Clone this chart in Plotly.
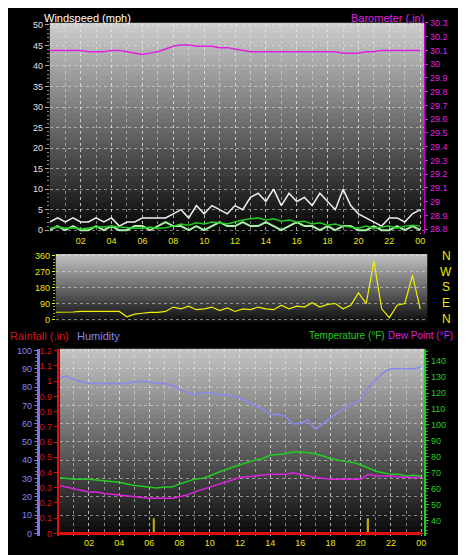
import plotly.graph_objects as go

H, W = 555, 466
FONT = "Liberation Sans"

# time axis in hours, half-hour steps
hours = [i * 0.5 for i in range(49)]
hour_ticks = [2, 4, 6, 8, 10, 12, 14, 16, 18, 20, 22, 24]
hour_labels = ["02", "04", "06", "08", "10", "12", "14", "16", "18", "20", "22", "00"]

# top panel
wind_gust = [2, 3, 2, 3, 2, 2, 3, 2, 3, 1, 2, 2, 3, 3, 3, 3, 4, 5, 3, 6, 4, 6, 5, 4, 6, 5,
             8, 9, 7, 10, 6, 9, 7, 8, 6, 9, 7, 5, 10, 6, 4, 3, 2, 1, 3, 3, 2, 4, 5]
wind_avg = [0.5, 0.8, 0.5, 0.6, 0.3, 0.5, 0.8, 0.8, 1, 0.8, 0.6, 0.5, 0.5, 0.8, 0.4, 0.6,
            1, 1.5, 1.2, 1.8, 1.5, 2, 1.8, 1.5, 2, 2.5, 2.8, 3, 2.5, 2.8, 2.2, 2.5, 2, 2.2,
            1.5, 1.8, 1.2, 1.5, 1, 0.8, 0.5, 1, 0.5, 0.8, 1, 0.5, 1, 1.2, 1]
wind_speed = [0, 1, 0, 1, 0, 0, 1, 0, 1, 0, 0, 1, 1, 0, 1, 2, 1, 1, 0, 1, 0, 1, 2, 1, 1, 2, 1,
              1, 2, 1, 0, 1, 2, 1, 1, 0, 1, 0, 1, 1, 0, 0, 1, 0, 0, 1, 0, 1, 0]
baro = [30.10, 30.10, 30.10, 30.10, 30.10, 30.09, 30.09, 30.09, 30.10, 30.10, 30.09, 30.08,
        30.07, 30.08, 30.09, 30.11, 30.13, 30.14, 30.14, 30.13, 30.13, 30.13, 30.12, 30.12,
        30.11, 30.10, 30.09, 30.09, 30.09, 30.09, 30.09, 30.09, 30.09, 30.09, 30.09, 30.09,
        30.09, 30.09, 30.08, 30.08, 30.08, 30.09, 30.09, 30.10, 30.10, 30.10, 30.10, 30.10, 30.10]

# middle panel
wind_dir = [40, 40, 40, 42, 45, 45, 45, 45, 45, 45,
            15, 30, 35, 40, 40, 45, 70, 60, 75, 55,
            60, 70, 50, 65, 45, 60, 55, 70, 60, 55,
            80, 60, 75, 70, 95, 70, 85, 90, 60, 80,
            150, 90, 330, 60, 10, 80, 90, 250, 60]

# bottom panel
humidity = [85, 86, 84, 83, 82, 82, 82, 82, 82, 82, 83, 83, 83, 82, 82, 81, 79, 77, 76, 77,
            77, 76, 76, 75, 74, 72, 70, 68, 65, 65, 64, 60, 60, 62, 57, 60, 63, 66, 69, 71,
            73, 80, 84, 88, 90, 90, 90, 90, 91]
temperature = [67, 66.5, 66, 66, 66, 65.5, 65, 64.5, 64, 63, 62, 61.5, 61, 60.5, 61, 61, 63, 64.5,
               66, 66.5, 68, 70, 72, 73.5, 75, 76.5, 78, 79, 81, 81.5, 82, 83, 83, 82.5, 82, 80.5,
               79, 78, 77, 76.5, 75, 73, 71, 70, 69, 69, 68, 68.5, 68]
dew_point = [62, 61, 60, 59, 58, 58, 57, 56.5, 56, 55.5, 55, 54.5, 54, 54, 54, 54, 55, 56, 58, 59.5,
             61, 62.5, 64, 65.5, 67, 67.5, 68, 68.5, 69, 69, 69, 70, 69, 68, 67, 66.5, 66, 66, 66, 66,
             66, 69, 68, 68, 68, 67.5, 67, 67, 67]
rainfall = [0] * 49
spike_hours = [6.3, 20.5]
spike_vals = [0.1, 0.1]


def px_x(p):
    return p / W


def px_y(p):
    return 1 - p / H


fig = go.Figure()

# top
fig.add_trace(go.Scatter(x=hours, y=wind_gust, line=dict(color="#f0f0f0", width=1.5),
                         xaxis="x", yaxis="y"))
fig.add_trace(go.Scatter(x=hours, y=wind_speed, line=dict(color="#a8f0a8", width=2),
                         xaxis="x", yaxis="y"))
fig.add_trace(go.Scatter(x=hours, y=wind_avg, line=dict(color="#22cc22", width=1.5),
                         xaxis="x", yaxis="y"))
fig.add_trace(go.Scatter(x=hours, y=baro, line=dict(color="#e020e0", width=1.5),
                         xaxis="x", yaxis="y2"))
# middle
fig.add_trace(go.Scatter(x=hours, y=wind_dir, line=dict(color="#f0f000", width=1.2),
                         xaxis="x2", yaxis="y3"))
# bottom
fig.add_trace(go.Scatter(x=hours, y=humidity, line=dict(color="#8888ee", width=1.5),
                         xaxis="x3", yaxis="y4"))
fig.add_trace(go.Scatter(x=hours, y=rainfall, line=dict(color="#dd1111", width=3),
                         xaxis="x3", yaxis="y5"))
fig.add_trace(go.Bar(x=spike_hours, y=spike_vals, width=0.08, marker=dict(color="#c8b000", line_width=0),
                     xaxis="x3", yaxis="y5"))
fig.add_trace(go.Scatter(x=hours, y=temperature, line=dict(color="#22cc22", width=1.5),
                         xaxis="x3", yaxis="y6"))
fig.add_trace(go.Scatter(x=hours, y=dew_point, line=dict(color="#dd22dd", width=1.5),
                         xaxis="x3", yaxis="y6"))

grid = dict(showgrid=True, gridcolor="rgba(235,235,235,0.5)", griddash="dot", gridwidth=1)
tickf = dict(family=FONT, size=9)

xcommon = dict(tickvals=hour_ticks, ticktext=hour_labels, tickfont=dict(tickf, color="#e8e800"),
               zeroline=False, showline=False, ticks="", **grid,
               minor=dict(dtick=1, showgrid=True, gridcolor="rgba(235,235,235,0.5)", griddash="dot"))

layout = dict(
    width=W, height=H, margin=dict(l=0, r=0, t=0, b=0),
    paper_bgcolor="black", plot_bgcolor="rgba(0,0,0,0)", showlegend=False,
    font=dict(family=FONT),
    xaxis=dict(domain=[px_x(42), px_x(418)], range=[0, 24.26], anchor="y", **xcommon),
    xaxis2=dict(domain=[px_x(48), px_x(421)], range=[0.39, 24.45], anchor="y3", side="top",
                showticklabels=False, showgrid=False, zeroline=False),
    xaxis3=dict(domain=[px_x(52), px_x(418)], range=[0.07, 24.2], anchor="y4", **xcommon),
    yaxis=dict(domain=[px_y(224), px_y(10)], range=[-0.96, 50.5], anchor="x", tickvals=list(range(0, 51, 5)),
               tickfont=dict(tickf, color="#e0e0e0"), ticks="outside", ticklen=4, tickcolor="#aaaaaa",
               minor=dict(dtick=1, ticks="outside", ticklen=2, tickcolor="#888888"),
               zeroline=False, **grid),
    yaxis2=dict(overlaying="y", side="right", range=[28.764, 30.3], anchor="x",
                tickvals=[round(28.8 + 0.1 * i, 1) for i in range(16)],
                ticktext=[("%.1f" % (28.8 + 0.1 * i)).replace(".0", "") if i in (2, 12) else "%.1f" % (28.8 + 0.1 * i) for i in range(16)],
                tickfont=dict(tickf, color="#e020e0"), ticks="outside", ticklen=3, tickcolor="#e020e0",
                showline=True, linecolor="#cc00cc", showgrid=False, zeroline=False),
    yaxis3=dict(domain=[px_y(313), px_y(244)], range=[-15, 371], anchor="x2", tickvals=[0, 90, 180, 270, 360],
                tickfont=dict(tickf, color="#e8e800"), ticks="outside", ticklen=3, tickcolor="#e8e800",
                minor=dict(dtick=18, ticks="outside", ticklen=2, tickcolor="#b0b000"),
                zeroline=False, **grid),
    yaxis4=dict(domain=[px_y(530), px_y(340)], range=[-1.6, 101], anchor="free", position=px_x(30),
                tickvals=list(range(0, 101, 10)), tickfont=dict(tickf, color="#8888ee"),
                showline=True, linecolor="#7777dd", linewidth=3, ticks="outside", ticklen=3, tickcolor="#7777dd",
                minor=dict(dtick=2, ticks="outside", ticklen=2, tickcolor="#6666cc"),
                zeroline=False, **grid),
    yaxis5=dict(overlaying="y4", range=[-0.019, 1.213], anchor="free", position=px_x(50), side="left",
                tickvals=[round(0.1 * i, 1) for i in range(13)],
                ticktext=["0", "0.1", "0.2", "0.3", "0.4", "0.5", "0.6", "0.7", "0.8", "0.9", "1", "1.1", "1.2"],
                tickfont=dict(tickf, color="#dd1111"), showline=True, linecolor="#dd1111", linewidth=2,
                ticks="outside", ticklen=3, tickcolor="#dd1111", showgrid=False, zeroline=False),
    yaxis6=dict(overlaying="y4", side="right", range=[30.1, 147.9], anchor="x3",
                tickvals=list(range(40, 141, 10)), tickfont=dict(tickf, color="#22cc22"),
                showline=True, linecolor="#22cc22", linewidth=2, ticks="outside", ticklen=3, tickcolor="#22cc22",
                minor=dict(dtick=2, ticks="outside", ticklen=2, tickcolor="#22aa22"),
                showgrid=False, zeroline=False),
)
fig.update_layout(**layout)


# gradient backgrounds for the three panels (bands overlap slightly to avoid seams)
def gradient(x0, x1, y0, y1, top, bottom, n=40):
    step = (y1 - y0) / n
    for i in range(n):
        f = i / (n - 1)
        v = int(top + (bottom - top) * f)
        fig.add_shape(type="rect", xref="paper", yref="paper", layer="below", line_width=0,
                      x0=px_x(x0), x1=px_x(x1),
                      y0=px_y(min(y1, y0 + step * (i + 1) + 1)), y1=px_y(y0 + step * i),
                      fillcolor="rgb(%d,%d,%d)" % (v, v, v))


gradient(42, 418, 10, 224, 205, 5)
gradient(48, 421, 244, 313, 195, 15)
gradient(52, 418, 340, 530, 195, 10)


def label(x, y, text, color, size=11, anchor="left"):
    fig.add_annotation(xref="paper", yref="paper", x=px_x(x), y=px_y(y), text=text, showarrow=False,
                       xanchor=anchor, yanchor="middle", font=dict(family=FONT, size=size, color=color))


label(34, 5, "Windspeed (mph)", "white")
label(420, 5, "Barometer (.in)", "#e020e0", anchor="right")
label(0, 327, "Rainfall (.in)", "#dd1111")
label(67, 327, "Humidity", "#8888ee")
label(300, 327, "Temperature (°F)", "#22cc22", size=10)
label(380, 327, "Dew Point (°F)", "#dd22dd", size=10)
for k, d in enumerate(["N", "W", "S", "E", "N"]):
    label(440, 246 + k * 16, d, "#e8e800", size=12, anchor="center")

fig.write_html("out.html")
